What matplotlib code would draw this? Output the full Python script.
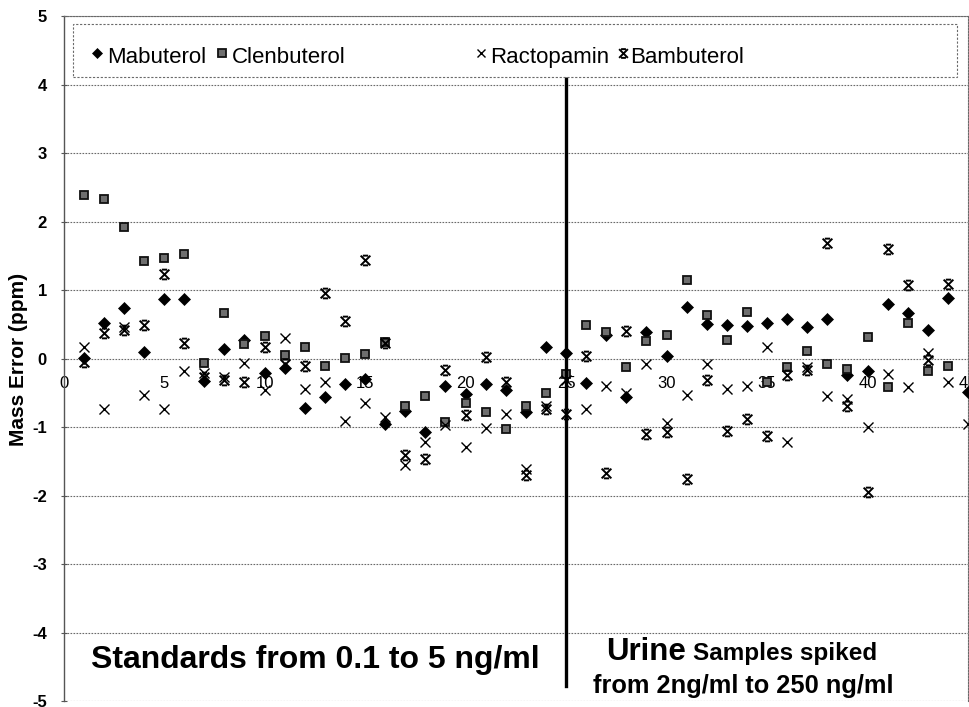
import matplotlib
matplotlib.use('Agg')
import matplotlib.pyplot as plt
import numpy as np
from matplotlib.path import Path

# ---------------- data ----------------
sample = list(range(1, 46))
mabuterol = [0.02, 0.53, 0.74, 0.10, 0.88, 0.88, -0.32, 0.14, 0.28, -0.20,
             -0.13, -0.71, -0.55, -0.37, -0.29, -0.95, -0.76, -1.07, -0.40, -0.51,
             -0.37, -0.45, -0.77, 0.17, 0.09, -0.35, 0.35, -0.55, 0.40, 0.04,
             0.76, 0.51, 0.49, 0.48, 0.52, 0.59, 0.46, 0.59, -0.24, -0.18,
             0.80, 0.67, 0.42, 0.89, -0.48]
clenbuterol = [2.39, 2.34, 1.93, 1.43, 1.48, 1.53, -0.06, 0.67, 0.22, 0.33,
               0.06, 0.18, -0.10, 0.02, 0.07, 0.25, -0.69, -0.54, -0.92, -0.64,
               -0.78, -1.02, -0.68, -0.50, -0.22, 0.50, 0.39, -0.12, 0.26, 0.35,
               1.15, 0.64, 0.28, 0.68, -0.34, -0.11, 0.11, -0.08, -0.15, 0.32,
               -0.41, 0.52, -0.18, -0.10, np.nan]
ractopamin = [0.18, -0.73, 0.47, -0.52, -0.73, -0.17, -0.20, -0.27, -0.06, -0.45,
              0.31, -0.44, -0.33, -0.91, -0.64, -0.84, -1.55, -1.21, -0.97, -1.29,
              -1.01, -0.81, -1.60, -0.68, -0.30, -0.73, -0.40, -0.50, -0.08, -0.93,
              -0.52, -0.08, -0.44, -0.39, 0.18, -1.21, -0.12, -0.54, -0.58, -0.99,
              -0.22, -0.41, 0.08, -0.33, -0.95]
bambuterol = [-0.04, 0.38, 0.43, 0.49, 1.24, 0.23, -0.26, -0.30, -0.34, 0.17,
              -0.08, -0.10, 0.97, 0.56, 1.44, 0.23, -1.40, -1.46, -0.16, -0.82,
              0.03, -0.33, -1.70, -0.73, -0.80, 0.04, -1.66, 0.41, -1.10, -1.07,
              -1.75, -0.31, -1.05, -0.87, -1.13, -0.24, -0.16, 1.70, -0.68, -1.94,
              1.61, 1.08, -0.01, 1.09, np.nan]

series_names = ['Mabuterol', 'Clenbuterol', 'Ractopamin', 'Bambuterol']
x_ticks = list(range(0, 46, 5))
y_ticks = list(range(-5, 6))
divider_x = 25

# ---------------- style ----------------
plt.rcParams['font.family'] = ['Liberation Sans', 'DejaVu Sans']

star_path = Path(
    [(-1, -1), (1, 1), (-1, 1), (1, -1), (-0.55, 1), (0.55, 1), (-0.55, -1), (0.55, -1)],
    [Path.MOVETO, Path.LINETO, Path.MOVETO, Path.LINETO,
     Path.MOVETO, Path.LINETO, Path.MOVETO, Path.LINETO])

styles = {
    'Mabuterol': dict(marker='D', ms=6.2, mfc='black', mec='black', mew=0.5),
    'Clenbuterol': dict(marker='s', ms=6.3, mfc='#6e6e6e', mec='#111111', mew=1.3),
    'Ractopamin': dict(marker='x', ms=7, mec='black', mew=1.0),
    'Bambuterol': dict(marker=star_path, ms=7, mec='black', mew=1.4),
}

fig = plt.figure(figsize=(9.7, 7.07), dpi=100)
ax = fig.add_axes([0.0655, 0.0078, 0.9325, 0.9689])

ax.set_xlim(0, 45)
ax.set_ylim(-5, 5)

grid_kw = dict(color='#6a6a6a', lw=0.8, ls=(0, (1.5, 1.2)))
for yv in y_ticks:
    ax.axhline(yv, zorder=1, **grid_kw)

data = [mabuterol, clenbuterol, ractopamin, bambuterol]
for name, vals in zip(series_names, data):
    ax.plot(sample, vals, ls='none', zorder=3, **styles[name])

# divider line
ax.plot([divider_x, divider_x], [4.52, -4.78], color='black', lw=2.4, zorder=4)

# spines / axes
ax.spines['bottom'].set_position(('data', 0))
ax.spines['bottom'].set_visible(False)
for s in ['top', 'right']:
    ax.spines[s].set_color('#6a6a6a')
    ax.spines[s].set_linestyle((0, (1.5, 1.2)))
    ax.spines[s].set_linewidth(0.8)
ax.spines['left'].set_color('#555555')
ax.spines['left'].set_linewidth(1.0)

ax.set_xticks(x_ticks)
ax.set_xticklabels([str(v) for v in x_ticks])
ax.tick_params(axis='x', length=0, pad=12, labelsize=12)
ax.set_yticks(y_ticks)
ax.set_yticklabels([str(v) for v in y_ticks], fontweight='bold')
ax.tick_params(axis='y', length=4, direction='inout', pad=10, labelsize=12,
               color='#555555')
ax.set_ylabel('Mass Error (ppm)', fontsize=15, fontweight='bold', labelpad=3)

# legend (drawn manually to match the spacing)
def px2ax(px, py):
    return ((px - 63.5) / 904.5, (701.5 - py) / 685.0)

x0, y0 = px2ax(73, 77)
x1, y1 = px2ax(957, 24)
leg_box = plt.Rectangle((x0, y0), x1 - x0, y1 - y0, transform=ax.transAxes,
                        fill=True, facecolor='white', edgecolor='#6a6a6a',
                        lw=0.8, ls=(0, (2, 1.5)), zorder=5)
ax.add_patch(leg_box)
leg_items = [(97, 107), (222, 232), (481, 490), (623, 630)]
for name, (mx, tx) in zip(series_names, leg_items):
    ax_m = px2ax(mx, 53)
    st = dict(styles[name])
    st['ms'] = st['ms'] * 0.9
    ax.plot([ax_m[0]], [ax_m[1]], ls='none', transform=ax.transAxes, zorder=6,
            clip_on=False, **st)
    ax_t = px2ax(tx, 63)
    ax.text(ax_t[0], ax_t[1], name, transform=ax.transAxes, fontsize=16,
            ha='left', va='baseline', zorder=6)

# annotations
bold_kw = dict(fontweight='bold', va='baseline', zorder=6)
ax.text(12.55, -4.51, 'Standards from 0.1 to 5 ng/ml', fontsize=23,
        ha='center', **bold_kw)
ax.text(30.95, -4.40, 'Urine', fontsize=22.5, ha='right', **bold_kw)
ax.text(31.3, -4.40, 'Samples spiked', fontsize=17.5, ha='left', **bold_kw)
ax.text(33.8, -4.88, 'from 2ng/ml to 250 ng/ml', fontsize=18.3,
        ha='center', **bold_kw)

fig.savefig('out.png', dpi=100)
